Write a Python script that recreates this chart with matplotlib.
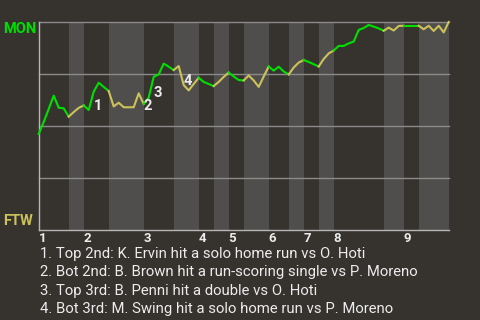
import matplotlib
matplotlib.use('Agg')
import matplotlib.pyplot as plt

plt.rcParams['font.family'] = ['Roboto', 'DejaVu Sans']

# MON win probability (%) after each event of the game
mon_wp = [46.2, 51.9, 58.2, 64.6, 58.8, 58.5, 54.5, 56.7, 58.7, 59.9,
          57.7, 66.5, 70.8, 68.8, 66.8, 59.4, 61.2, 59.0, 59.0, 59.0,
          65.7, 60.6, 63.7, 73.6, 74.8, 80.0, 78.5, 76.9, 78.8, 69.7,
          67.1, 70.2, 73.2, 71.2, 70.2, 69.2, 71.2, 73.6, 75.7, 73.8,
          72.1, 71.9, 74.3, 71.9, 68.8, 73.8, 78.6, 76.6, 78.5, 76.2,
          74.8, 78.1, 80.5, 81.7, 80.8, 79.7, 78.6, 82.2, 84.9, 86.3,
          88.5, 88.5, 89.7, 90.6, 96.2, 97.1, 98.6, 97.8, 96.9, 95.8,
          97.3, 95.9, 98.1, 98.2, 98.2, 98.2, 98.2, 96.5, 98.2, 95.7,
          98.2, 95.0, 100.0]

# first event of each half inning: top 1st, bot 1st, top 2nd, ...
half_starts = [0, 6, 9, 14, 21, 27, 32, 35, 38, 41, 46, 50, 53, 56, 59, 69, 73, 76]
last_event = 82
inning_labels = ['1', '2', '3', '4', '5', '6', '7', '8', '9']

note_events = [11, 21, 23, 29]
note_heights = [57.5, 57.5, 64.0, 69.7]
note_marks = ['1', '2', '3', '4']
notes = ["1. Top 2nd: K. Ervin hit a solo home run vs O. Hoti",
         "2. Bot 2nd: B. Brown hit a run-scoring single vs P. Moreno",
         "3. Top 3rd: B. Penni hit a double vs O. Hoti",
         "4. Bot 3rd: M. Swing hit a solo home run vs P. Moreno"]

bg = '#36332f'
band = '#4f4e4c'
green = '#00e000'
yellow = '#cdc25a'
grid = '#8c8a88'
white = '#ececec'

fig = plt.figure(figsize=(4.8, 3.2), dpi=100)
fig.patch.set_facecolor(bg)
ax = fig.add_axes([38.7/480, 90/320, 410/480, 208/320])
ax.set_facecolor(bg)
ax.set_xlim(0, last_event)
ax.set_ylim(0, 100)

bounds = half_starts + [last_event]
for k in range(len(half_starts)):
    a, b = bounds[k], bounds[k+1]
    if k % 2 == 1:
        ax.axvspan(a, b, color=band, lw=0, zorder=0)
    col = green if k % 2 == 0 else yellow
    ax.plot(range(a, b+1), mon_wp[a:b+1], color=col, lw=1.5, zorder=3, clip_on=False)

for yv in [25, 50, 75, 100]:
    ax.axhline(yv, color=grid, lw=1, zorder=1, clip_on=False)

for s in ['top', 'right']:
    ax.spines[s].set_visible(False)
for s in ['left', 'bottom']:
    ax.spines[s].set_color('#b8b6b4')
    ax.spines[s].set_linewidth(1)

ax.set_yticks([])
ax.set_xticks(half_starts[::2])
ax.set_xticklabels(inning_labels, ha='left', fontweight='bold')
ax.tick_params(axis='x', length=0, pad=1.5, colors=white, labelsize=9.5)

for i in range(len(note_events)):
    ax.text(note_events[i], note_heights[i], note_marks[i], ha='left', va='baseline',
            color=white, fontweight='bold', fontsize=10.5, zorder=4)

fig.text(3/480, 1 - 33.3/320, 'MON', color=green, fontweight='bold', fontsize=10.5,
         ha='left', va='baseline')
fig.text(3/480, 1 - 225/320, 'FTW', color=yellow, fontweight='bold', fontsize=10.5,
         ha='left', va='baseline')

baselines = [258, 276.3, 294.7, 313]
for i in range(len(notes)):
    fig.text(40/480, 1 - baselines[i]/320, notes[i], color=white, fontsize=10.7,
             ha='left', va='baseline')

plt.savefig('out.png', dpi=100, facecolor=bg)
plt.close()
